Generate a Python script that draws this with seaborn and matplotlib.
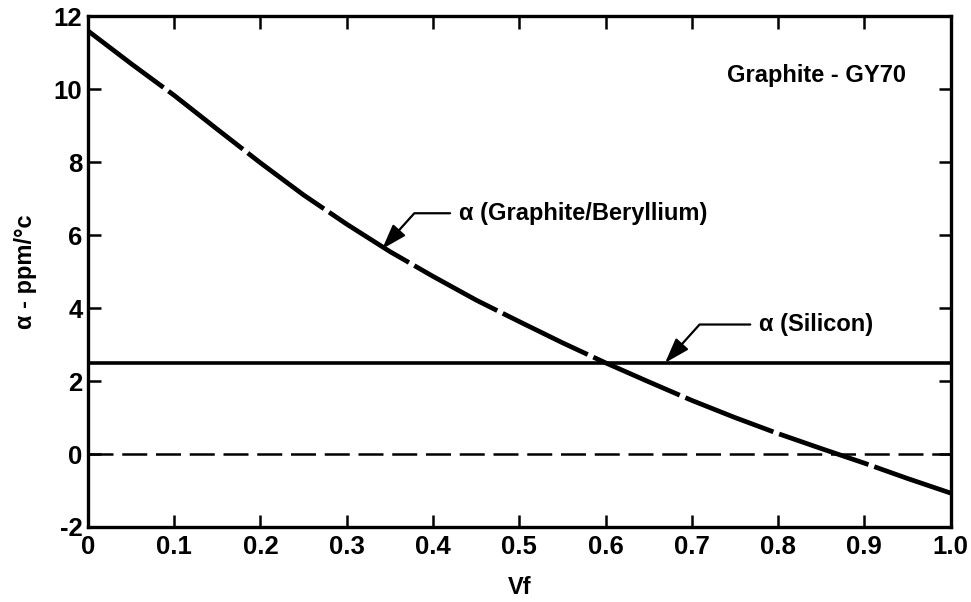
import matplotlib
matplotlib.use("Agg")
import matplotlib.pyplot as plt
import seaborn as sns
import pandas as pd

# Data
vf = [0.00, 0.05, 0.10, 0.15, 0.20, 0.25, 0.30, 0.35, 0.40, 0.45, 0.50,
      0.55, 0.60, 0.65, 0.70, 0.75, 0.80, 0.85, 0.90, 0.95, 1.00]
alpha_gb = [11.6, 10.7, 9.83, 8.90, 7.98, 7.10, 6.30, 5.55, 4.87, 4.22, 3.63,
            3.05, 2.50, 1.98, 1.47, 1.00, 0.56, 0.15, -0.25, -0.67, -1.07]
alpha_si = [2.5, 2.5]
si_x = [0.0, 1.0]
zero_y = [0.0, 0.0]

x_ticks = [0.1, 0.2, 0.3, 0.4, 0.5, 0.6, 0.7, 0.8, 0.9]
x_tick_labels = ["0", "0.1", "0.2", "0.3", "0.4", "0.5", "0.6", "0.7", "0.8", "0.9", "1.0"]
y_ticks = [-2, 0, 2, 4, 6, 8, 10, 12]

sns.set_style("ticks")
plt.rcParams['font.family'] = ['Liberation Sans', 'DejaVu Sans']
plt.rcParams['font.weight'] = 'bold'
plt.rcParams['text.color'] = 'black'
plt.rcParams['axes.labelcolor'] = 'black'

fig = plt.figure(figsize=(9.71, 6.02), dpi=100)
ax = fig.add_axes([0.0906, 0.1246, 0.8884, 0.8484])

df_gb = pd.DataFrame({"Vf": vf, "alpha": alpha_gb})
df_si = pd.DataFrame({"Vf": si_x, "alpha": alpha_si})
df_zero = pd.DataFrame({"Vf": si_x, "alpha": zero_y})

sns.lineplot(data=df_zero, x="Vf", y="alpha", ax=ax, color="black", lw=1.8)
ax.lines[-1].set_dashes((10, 3.5))
sns.lineplot(data=df_si, x="Vf", y="alpha", ax=ax, color="black", lw=2.6)
sns.lineplot(data=df_gb, x="Vf", y="alpha", ax=ax, color="black", lw=3.4)
ax.lines[-1].set_dashes((20, 1.3))
ax.lines[-1].set_dash_capstyle("butt")

ax.set_xlim(0, 1.0)
ax.set_ylim(-2, 12)
ax.set_xticks([0.0] + x_ticks + [1.0])
ax.set_xticklabels(x_tick_labels)
ax.set_yticks(y_ticks)
ax.set_yticklabels([str(v) for v in y_ticks])
ax.tick_params(axis="both", direction="in", length=9, width=1.8,
               top=True, right=True, labelsize=18.5, colors="black")
ax.tick_params(axis="x", pad=6)
ax.tick_params(axis="y", pad=4)
for lab in ax.get_xticklabels() + ax.get_yticklabels():
    lab.set_fontweight("bold")
for s in ax.spines.values():
    s.set_linewidth(2.4)
    s.set_color("black")

ax.set_xlabel("Vf", fontsize=17, fontweight="bold", labelpad=12, color="black")
ax.set_ylabel("\u03b1 - ppm/\u00b0c", fontsize=17, fontweight="bold", labelpad=12,
              color="black")

ax.text(0.845, 10.38, "Graphite - GY70", fontsize=17, fontweight="bold",
        ha="center", va="center", color="black")

arrow = dict(arrowstyle="-|>,head_length=0.9,head_width=0.3", color="black",
             lw=1.6, shrinkA=0, shrinkB=0)

ax.annotate("\u03b1 (Graphite/Beryllium)", xy=(0.341, 5.62), xytext=(0.43, 6.6),
            textcoords="data", fontsize=17, fontweight="bold", color="black",
            ha="left", va="center",
            arrowprops=dict(arrow, connectionstyle="angle,angleA=180,angleB=48,rad=0",
                            relpos=(0.0, 0.5), shrinkA=4))
ax.annotate("\u03b1 (Silicon)", xy=(0.669, 2.5), xytext=(0.778, 3.55),
            textcoords="data", fontsize=17, fontweight="bold", color="black",
            ha="left", va="center",
            arrowprops=dict(arrow, connectionstyle="angle,angleA=180,angleB=48,rad=0",
                            relpos=(0.0, 0.5), shrinkA=4))

fig.savefig("out.png", dpi=100)
